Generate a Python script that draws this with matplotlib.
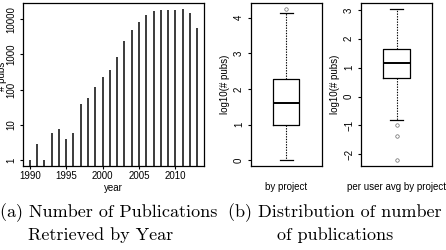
import matplotlib
matplotlib.use('Agg')
import matplotlib.pyplot as plt

plt.rcParams.update({
    'font.family': 'Liberation Sans',
    'font.size': 7,
    'axes.linewidth': 0.9,
    'xtick.major.size': 2.5,
    'ytick.major.size': 2.5,
    'xtick.major.width': 0.8,
    'ytick.major.width': 0.8,
    'xtick.major.pad': 1.2,
    'ytick.major.pad': 2.5,
})

# (a) publications per year
years = list(range(1990, 2014))
pubs = [1, 3, 1, 6, 8, 4, 6, 40, 59, 117, 228, 365, 870, 2350, 4900, 8400,
        13000, 16600, 18300, 18300, 18300, 18900, 15000, 5600]
year_ticks = [1990, 1995, 2000, 2005, 2010]
pub_ticks = [1, 10, 100, 1000, 10000]

# (b) boxplot stats, log10(# pubs)
proj_stats = dict(q1=1.0, med=1.6, q3=2.29, whislo=0.0, whishi=4.12, fliers=[4.24])
user_stats = dict(q1=0.655, med=1.15, q3=1.66, whislo=-0.83, whishi=3.02,
                  fliers=[-0.98, -1.36, -2.19])
proj_ticks = [0, 1, 2, 3, 4]
user_ticks = [-2, -1, 0, 1, 2, 3]

fig = plt.figure(figsize=(4.46, 2.5), dpi=100)
W, H = 446.0, 250.0


def box(x0, x1, top, bottom):
    return [x0 / W, 1 - bottom / H, (x1 - x0) / W, (bottom - top) / H]


# --- left panel ---
ax = fig.add_axes(box(23, 204, 3.3, 165.5))
ax.set_yscale('log')
ax.set_ylim(0.72, 28000)
ax.set_xlim(1989.08, 2013.92)
ax.vlines(years, 0.72, pubs, color='#1a1a1a', linewidth=1.2)
ax.set_yticks(pub_ticks)
ax.set_yticklabels([str(t) for t in pub_ticks], rotation=90, va='center')
ax.minorticks_off()
ax.set_xticks(year_ticks)
ax.set_xlabel('year', labelpad=1.5)
ax.set_ylabel('# pubs', va='center', ha='center')
ax.yaxis.set_label_coords(-20.5 / 181, (165.5 - 76) / 162.2)


def draw_box(ax, stats, ticks, ylim, xlabel):
    ax.bxp([stats], widths=0.37, capwidths=[0.185], showfliers=True,
           boxprops=dict(color='black', linewidth=0.9),
           medianprops=dict(color='black', linewidth=1.4),
           whiskerprops=dict(color='black', linewidth=0.8, linestyle=(0, (1.2, 1.2))),
           capprops=dict(color='black', linewidth=0.9),
           flierprops=dict(marker='o', markersize=2.5, markerfacecolor='none',
                           markeredgecolor='#666666', markeredgewidth=0.5))
    ax.set_xlim(0.5, 1.5)
    ax.set_ylim(*ylim)
    ax.set_xticks([])
    ax.set_yticks(ticks)
    ax.set_yticklabels([str(t).replace('-', '\u2212') for t in ticks],
                       rotation=90, va='center')
    ax.set_ylabel('log10(# pubs)', labelpad=3)
    ax.set_xlabel(xlabel, labelpad=12)


ax2 = fig.add_axes(box(251, 321.7, 3.3, 165.5))
draw_box(ax2, proj_stats, proj_ticks, (-0.15, 4.40), 'by project')

ax3 = fig.add_axes(box(361, 432.3, 3.3, 165.5))
draw_box(ax3, user_stats, user_ticks, (-2.39, 3.23), 'per user avg by project')

# captions
cap = dict(family='cmr10', fontsize=13, va='center', ha='left')
fig.text(0 / W, 1 - 213 / H, '(a) Number of Publications', **cap)
fig.text(28 / W, 1 - 235 / H, 'Retrieved by Year', **cap)
fig.text(228 / W, 1 - 213 / H, '(b) Distribution of number', **cap)
fig.text(277 / W, 1 - 235 / H, 'of publications', **cap)

fig.savefig('out.png', dpi=100)
